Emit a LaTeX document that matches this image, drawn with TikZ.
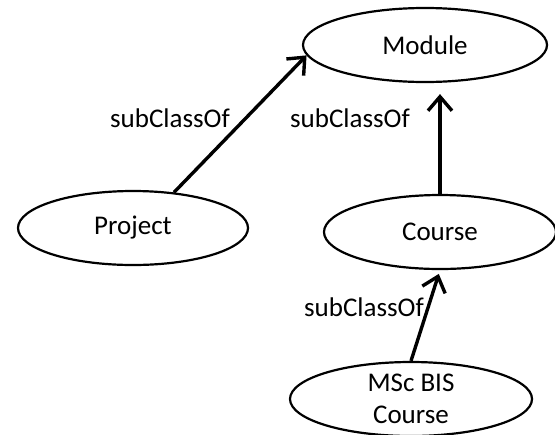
\documentclass[tikz,border=0pt]{standalone}
\usepackage{fontspec}
\setmainfont{Carlito}
\usetikzlibrary{shapes.geometric, arrows.meta, positioning}

\begin{document}
\begin{tikzpicture}[
        x=0.5pt, y=-0.5pt,
        font=\fontsize{13.5}{16}\selectfont,
        class/.style={ellipse, draw, line width=1.1pt, inner sep=0pt, minimum width=#1, minimum height=37pt},
        class/.default=118pt,
        subclass/.style={-{Straight Barb[length=7pt, width=12pt, line width=1.7pt]}, line width=1.7pt},
        rel/.style={inner sep=0pt}
    ]
        \useasboundingbox (0,0) rectangle (555,434);

        % Classes
        \node[class=122pt] (module) at (425,45) {Module};
        \node[class=115pt] (project) at (133,228) {Project};
        \node[class=116pt] (course) at (440,232) {Course};
        \node[class=121pt, align=center] (msc) at (411,399) {MSc BIS\\Course};

        % subClassOf links
        \draw[subclass] (project.41) -- (module.185);
        \draw[subclass, shorten >=5.5pt] (course.north) -- (course.north |- module.south);
        \draw[subclass, shorten >=2pt] (msc.north) -- (course.south);

        % Labels
        \node[rel] (lblproject) at (170,118) {subClassOf};
        \node[rel] (lblcourse) at (350,118) {subClassOf};
        \node[rel] (lblmsc) at (364,307) {subClassOf};
    \end{tikzpicture}
\end{document}
